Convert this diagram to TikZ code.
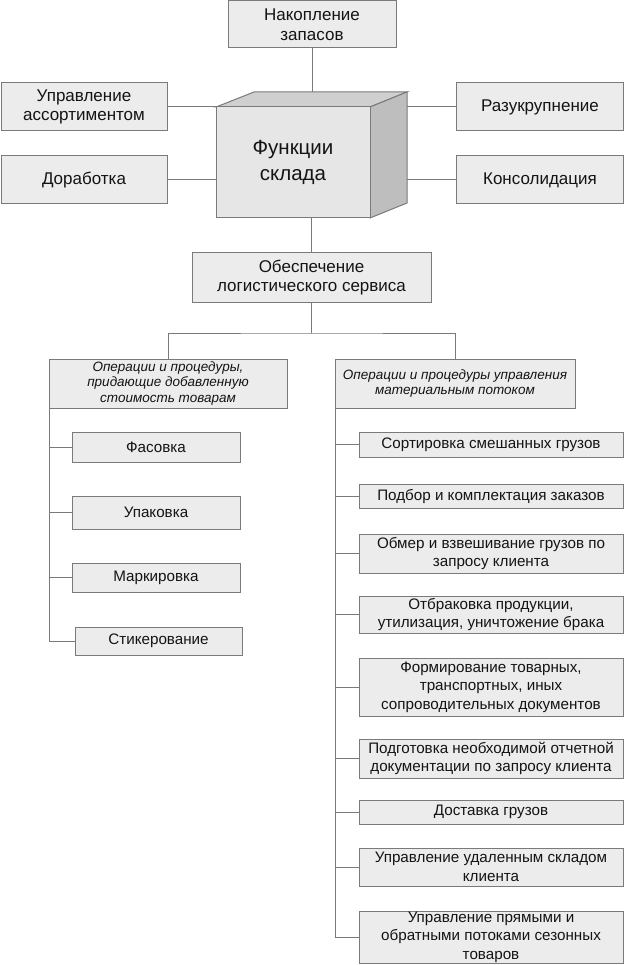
\documentclass[tikz,border=0pt]{standalone}
\usepackage{fontspec}
\setmainfont{Liberation Sans}
\begin{document}
\begin{tikzpicture}[x=1pt,y=-1pt,
  every node/.style={inner sep=0pt, outer sep=0pt},
  box/.style={draw=edgegray, fill=boxfill, line width=1pt, align=center, text=black!92},
  big/.style={font=\fontsize{17}{19.5}\selectfont},
  mid/.style={font=\fontsize{15.2}{18.5}\selectfont},
  hdr/.style={font=\itshape\fontsize{13.5}{15.5}\selectfont},
  link/.style={draw=edgegray, line width=1pt}]
\definecolor{edgegray}{HTML}{7A7A7A}
\definecolor{boxfill}{HTML}{ECECEC}
\definecolor{cubefront}{HTML}{E6E6E6}
\definecolor{cubetop}{HTML}{CFCFCF}
\definecolor{cuberight}{HTML}{BEBEBE}
\useasboundingbox (0,0) rectangle (624,965);

% top boxes
\node[box,big,minimum width=168pt,minimum height=47pt] (nak) at (312,24.5) {Накопление\\запасов};
\node[box,big,minimum width=166pt,minimum height=48pt] (upr) at (84,107) {Управление\\ассортиментом};
\node[box,big,minimum width=166pt,minimum height=48pt] (dor) at (84,180) {Доработка};
\node[box,big,minimum width=167pt,minimum height=48pt] (raz) at (540,107) {Разукрупнение};
\node[box,big,minimum width=167pt,minimum height=48pt] (kon) at (540,180) {Консолидация};

% cube
\fill[cubetop,draw=edgegray,line width=1pt] (216,107) -- (254,92) -- (407,92) -- (370,107) -- cycle;
\fill[cuberight,draw=edgegray,line width=1pt] (370,107) -- (407,92) -- (407,203) -- (370,218) -- cycle;
\node[draw=edgegray, fill=cubefront, line width=1pt, minimum width=154pt, minimum height=111pt,
  align=center, font=\fontsize{20.5}{25.5}\selectfont, text=black!92] (cube) at (293,162.5) {Функции\\склада};
\coordinate (topc) at (312,92);
\coordinate (rb) at (407,92);

\draw[link] (nak.south) -- (topc);
\draw[link] (upr.east) -- (cube.north west);
\draw[link] (dor.east) -- (dor.east -| cube.west);
\draw[link] (raz.west) -- (raz.west -| rb);
\draw[link] (kon.west) -- (kon.west -| rb);

% service
\node[box,big,minimum width=239pt,minimum height=49pt] (obs) at (311.5,277.5) {Обеспечение\\логистического сервиса};
\draw[link] (cube.south -| obs.north) -- (obs.north);
\coordinate (split) at (obs.south |- 0,333);

\node[box,hdr,minimum width=238pt,minimum height=49pt] (lh) at (168,383.5) {Операции и процедуры,\\придающие добавленную\\стоимость товарам};
\node[box,hdr,minimum width=240pt,minimum height=49pt] (rh) at (455,383.5) {Операции и процедуры управления\\материальным потоком};
\draw[link] (obs.south) -- (split);
\draw[link] (lh.north) |- (split) -| (rh.north);

% left list
\node[box,mid,minimum width=168pt,minimum height=30pt] (fas) at (156,447) {Фасовка};
\node[box,mid,minimum width=168pt,minimum height=33pt] (upk) at (156,512.5) {Упаковка};
\node[box,mid,minimum width=168pt,minimum height=29pt] (mar) at (156,577.5) {Маркировка};
\node[box,mid,minimum width=167pt,minimum height=28pt] (sti) at (158.5,641) {Стикерование};
\draw[link] (lh.south west) -- (lh.south west |- sti.west) -- (sti.west);
\foreach \n in {fas,upk,mar}{\draw[link] (lh.south west |- \n.west) -- (\n.west);}

% right list
\node[box,mid,minimum width=264pt,minimum height=25pt] (r1) at (491,444.5) {Сортировка смешанных грузов};
\node[box,mid,minimum width=264pt,minimum height=24pt] (r2) at (491,496) {Подбор и комплектация заказов};
\node[box,mid,minimum width=264pt,minimum height=39pt] (r3) at (491,553.5) {Обмер и взвешивание грузов по\\запросу клиента};
\node[box,mid,minimum width=264pt,minimum height=37pt] (r4) at (491,614.5) {Отбраковка продукции,\\утилизация, уничтожение брака};
\node[box,mid,minimum width=264pt,minimum height=58pt] (r5) at (491,687) {Формирование товарных,\\транспортных, иных\\сопроводительных документов};
\node[box,mid,minimum width=264pt,minimum height=39pt] (r6) at (491,758.5) {Подготовка необходимой отчетной\\документации по запросу клиента};
\node[box,mid,minimum width=264pt,minimum height=24pt] (r7) at (491,812) {Доставка грузов};
\node[box,mid,minimum width=264pt,minimum height=38pt] (r8) at (491,867) {Управление удаленным складом\\клиента};
\node[box,mid,minimum width=264pt,minimum height=52pt] (r9) at (491,937) {Управление прямыми и\\обратными потоками сезонных\\товаров};
\draw[link] (rh.south west) -- (rh.south west |- r9.west) -- (r9.west);
\foreach \n in {r1,r2,r3,r4,r5,r6,r7,r8}{\draw[link] (rh.south west |- \n.west) -- (\n.west);}
\end{tikzpicture}
\end{document}
